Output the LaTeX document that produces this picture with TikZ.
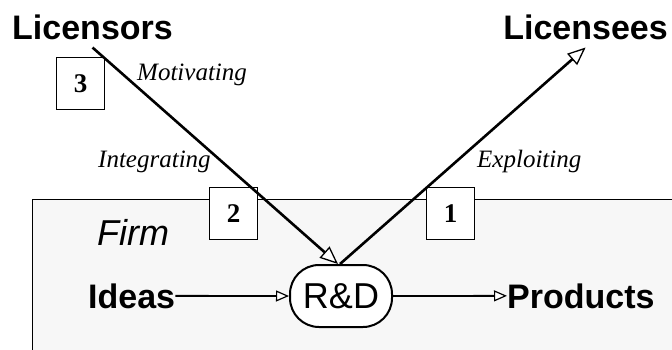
\documentclass[tikz,border=0pt]{standalone}
\usepackage{fontspec}
\setmainfont{Liberation Serif}
\setsansfont{Liberation Sans}
\usetikzlibrary{arrows.meta}
\begin{document}
\begin{tikzpicture}[x=1pt,y=-1pt,
  big/.style={font=\sffamily\bfseries\fontsize{34}{37}\selectfont, inner sep=0pt},
  verb/.style={font=\itshape\fontsize{25}{28}\selectfont, inner sep=0pt, anchor=base west},
  numbox/.style={draw, line width=1pt, fill=white, minimum width=48pt, minimum height=52pt,
    inner sep=0pt, font=\bfseries\fontsize{27}{29}\selectfont},
  flow/.style={line width=2.6pt, -{Triangle[fill=white, line width=1.3pt, length=18pt, width=15pt]}},
  thin flow/.style={line width=1.8pt, -{Triangle[fill=white, line width=1.2pt, length=13pt, width=11pt]}}]
\useasboundingbox (0,0) rectangle (672,349);
% the firm
\fill[white] (0,0) rectangle (672,349);
\draw[line width=1pt, fill=gray!6] (32,199) -- (680,199) -- (680,360) -- (32,360) -- cycle;
\node[font=\sffamily\itshape\fontsize{36}{40}\selectfont, inner sep=0pt, anchor=base west] (firm) at (97,245) {Firm};
% outside parties
\node[big, anchor=base west] (licensors) at (12,39) {Licensors};
\node[big, anchor=base east] (licensees) at (668,39) {Licensees};
% numbered boxes
\node[numbox] (b3) at (80.5,83.5) {3};
\node[numbox] (b2) at (233.5,213.5) {2};
\node[numbox] (b1) at (450.5,213.5) {1};
% verbs
\node[verb] (motivating) at (137,80) {Motivating};
\node[verb] (integrating) at (98,167) {Integrating};
\node[verb] (exploiting) at (477,167) {Exploiting};
% internal chain
\node[big, anchor=base west] (ideas) at (88,308) {Ideas};
\node[draw, line width=2pt, fill=white, rounded corners=29pt, minimum width=102pt, minimum height=62pt,
  inner sep=0pt, font=\sffamily\fontsize{36}{39}\selectfont] (rd) at (341,296) {R\&D};
\node[big, anchor=base west] (products) at (507,308) {Products};
\draw[thin flow] (ideas.east) -- (rd.west);
\draw[thin flow] (rd.east) -- (products.west);
% licensing flows
\draw[flow] ([yshift=-8pt]licensors.south) -- ([xshift=-3pt]rd.north);
\draw[flow] ([xshift=-1pt]rd.north) -- ([yshift=-8pt]licensees.south);
\end{tikzpicture}
\end{document}
